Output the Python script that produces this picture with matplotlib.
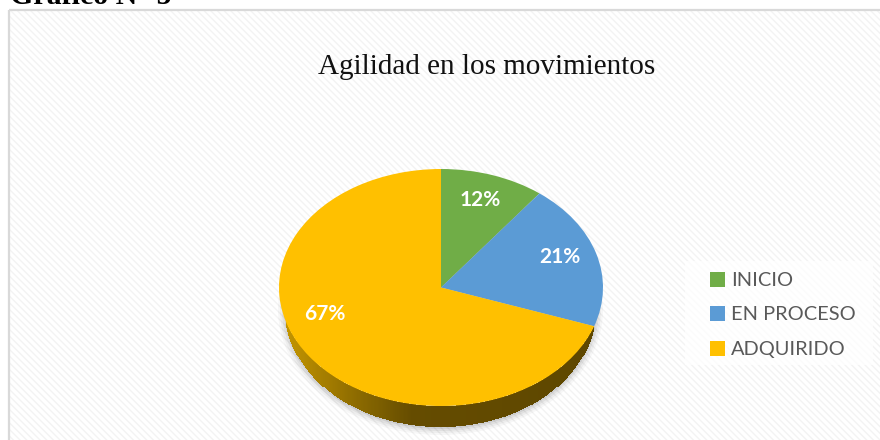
import numpy as np
import matplotlib
matplotlib.use("Agg")
import matplotlib.pyplot as plt
from matplotlib.colors import LinearSegmentedColormap
from matplotlib.patches import Ellipse, Rectangle

# Values
categories = ["INICIO", "EN PROCESO", "ADQUIRIDO"]
pct_labels = ["12%", "21%", "67%"]
# drawn slice sizes (3D perspective in the original makes them differ from the printed %)
slice_sizes = [10.4, 19.9, 69.7]
colors = ["#70AD47", "#5B9BD5", "#FFC000"]

plt.rcParams["hatch.linewidth"] = 1.0

fig = plt.figure(figsize=(8.8, 4.4), dpi=100)
bg = fig.add_axes([0, 0, 1, 1])
bg.set_xlim(0, 880)
bg.set_ylim(440, 0)
bg.axis("off")

# Chart frame with light diagonal stripes
bg.add_patch(Rectangle((9, 10), 900, 460, facecolor="white", edgecolor="#f3f3f3",
                       hatch="\\\\\\\\\\", lw=0, zorder=1))
bg.add_patch(Rectangle((9, 10), 900, 460, fill=False, edgecolor="#d9d9d9", lw=1.6, zorder=2))

cx, cy, rx, ry = 441, 287.5, 162, 118.5
# lower rim of the wall: narrower ellipse, so the wall tapers off at both ends
bx, by, brx = 440.5, 308.5, 155.5

# Soft shadow under the pie
for grow, alpha in [(7, 0.03), (5, 0.04), (3, 0.05), (1, 0.07)]:
    bg.add_patch(Ellipse((bx, by + 1), 2 * (brx + grow), 2 * (ry + grow), color="black",
                         alpha=alpha, lw=0, zorder=3))

# Side wall of the pie, dark gold shading from left to right
wall_cmap = LinearSegmentedColormap.from_list(
    "wall", [(0, "#c29400"), (0.17, "#9a7500"), (0.31, "#7a5d00"), (0.41, "#654c00"), (1, "#5e4700")])
xs = np.linspace(bx - brx, bx + brx, 300)
top = cy + ry * np.sqrt(np.clip(1 - ((xs - cx) / rx) ** 2, 0, None))
bottom = by + ry * np.sqrt(np.clip(1 - ((xs - bx) / brx) ** 2, 0, None))
keep = bottom > top
xs, top, bottom = xs[keep], top[keep], bottom[keep]
X = np.vstack([xs, xs])
Y = np.vstack([top, bottom])
C = (xs[:-1] - xs[0]) / (xs[-1] - xs[0])
bg.pcolormesh(X, Y, C[None, :], cmap=wall_cmap, shading="flat", zorder=4, rasterized=True)

# Top face
pie_ax = fig.add_axes([(cx - 1.25 * rx) / 880, 1 - (cy + 1.25 * ry) / 440,
                       2.5 * rx / 880, 2.5 * ry / 440], zorder=5)
pie_ax.pie(slice_sizes, colors=colors, startangle=90, counterclock=False, radius=1)
pie_ax.set_aspect("auto")
pie_ax.set_xlim(-1.25, 1.25)
pie_ax.set_ylim(-1.25, 1.25)
pie_ax.patch.set_visible(False)

top_ax = fig.add_axes([0, 0, 1, 1], zorder=6)
top_ax.set_xlim(0, 880)
top_ax.set_ylim(440, 0)
top_ax.axis("off")

serif = "Liberation Serif"
sans = "Lato"

top_ax.text(10, 4, "Gráfico N° 5", family=serif, weight="bold", fontsize=21.5, color="black",
            ha="left", va="baseline", clip_on=False)
top_ax.text(487, 67, "Agilidad en los movimientos", family=serif, fontsize=21,
            color="#111111", ha="center", va="center")

for label, x, y in zip(pct_labels, [480, 560, 325], [200, 257, 314]):
    top_ax.text(x, y, label, family=sans, weight="bold", fontsize=15, color="white",
                ha="center", va="center")

# Legend
top_ax.add_patch(Rectangle((685, 261), 188, 104, facecolor="white", alpha=0.75, lw=0))
for name, color, y in zip(categories, colors, [279.5, 313.5, 348.5]):
    top_ax.add_patch(Rectangle((710, y - 7.5), 15, 15, facecolor=color, lw=0))
    top_ax.text(731, y + 0.5, name, family=sans, fontsize=14.4, color="#595959", ha="left", va="center")

fig.savefig("out.png", dpi=100)
